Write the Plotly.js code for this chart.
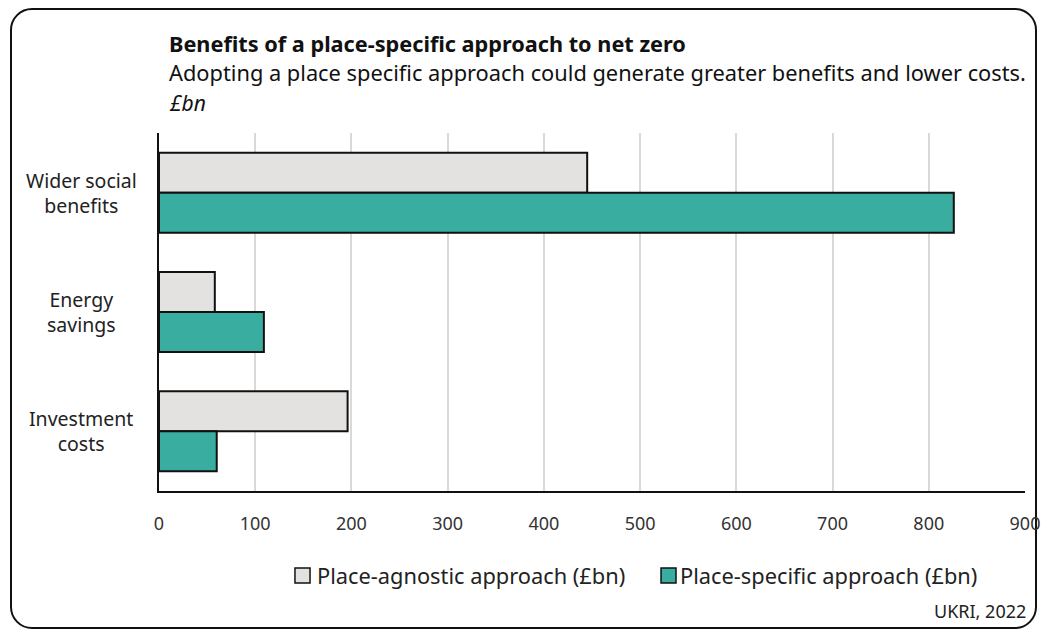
<!DOCTYPE html>
<html>
<head>
<meta charset="utf-8">
<script src="https://cdn.plot.ly/plotly-3.0.1.min.js"></script>
<style>
  html, body { margin: 0; padding: 0; background: #fff; }
  #frame { position: absolute; left: 10px; top: 8px; width: 1027px; height: 621px; border: 2px solid #111; border-radius: 22px; box-sizing: border-box; }
  #chart { position: absolute; left: 0; top: 0; width: 1045px; height: 633px; }
</style>
</head>
<body>
<div id="frame"></div>
<div id="chart"></div>
<script>
const categories = ["Wider social benefits", "Energy savings", "Investment costs"];
const categoryLabels = ["Wider social<br>benefits", "Energy<br>savings", "Investment<br>costs"];
const seriesNames = ["Place-agnostic approach (£bn)", "Place-specific approach (£bn)"];
const seriesColors = ["#e3e2e0", "#38ada0"];
const placeAgnostic = [445, 58, 196];
const placeSpecific = [826, 109, 60];
const xTicks = [0, 100, 200, 300, 400, 500, 600, 700, 800, 900];

const FONT = "Noto Sans, Open Sans, sans-serif";

const traces = [
  { type: "bar", orientation: "h", name: seriesNames[0], y: categories, x: placeAgnostic,
    marker: { color: seriesColors[0], line: { color: "#111", width: 2 } } },
  { type: "bar", orientation: "h", name: seriesNames[1], y: categories, x: placeSpecific,
    marker: { color: seriesColors[1], line: { color: "#111", width: 2 } } }
];

const annotations = categories.map((c, i) => ({
  xref: "paper", yref: "y", x: -0.090, y: c, text: categoryLabels[i],
  showarrow: false, xanchor: "center", yanchor: "middle", align: "center",
  font: { family: FONT, size: 19.5, color: "#222" }
}));
annotations.push(
  { xref: "paper", yref: "paper", x: 0.009, y: 1.251, xanchor: "left", yanchor: "middle", showarrow: false,
    text: "<b>Benefits of a place-specific approach to net zero</b>", font: { family: FONT, size: 21.7, color: "#111" } },
  { xref: "paper", yref: "paper", x: 0.009, y: 1.168, xanchor: "left", yanchor: "middle", showarrow: false,
    text: "Adopting a place specific approach could generate greater benefits and lower costs.", font: { family: FONT, size: 21.8, color: "#111" } },
  { xref: "paper", yref: "paper", x: 0.009, y: 1.084, xanchor: "left", yanchor: "middle", showarrow: false,
    text: "<i>£bn</i>", font: { family: FONT, size: 21, color: "#111" } },
  { xref: "paper", yref: "paper", x: 1.003, y: -0.335, xanchor: "right", yanchor: "middle", showarrow: false,
    text: "UKRI, 2022", font: { family: FONT, size: 18, color: "#222" } }
);

// custom legend (symbol squares + labels from series arrays)
const legendSymX = [[0.1570, 0.1744], [0.5797, 0.5970]];
const legendTextX = [0.1801, 0.5993];
const shapes = [];
seriesNames.forEach((n, i) => {
  shapes.push({ type: "rect", xref: "paper", yref: "paper",
    x0: legendSymX[i][0], x1: legendSymX[i][1], y0: -0.2151, y1: -0.2570,
    fillcolor: seriesColors[i], line: { color: "#111", width: 1.5 } });
  annotations.push({ xref: "paper", yref: "paper", x: legendTextX[i], y: -0.2365,
    xanchor: "left", yanchor: "middle", showarrow: false, text: n,
    font: { family: FONT, size: 21.8, color: "#222" } });
});

const layout = {
  width: 1045, height: 633,
  margin: { l: 159, r: 20, t: 133, b: 142 },
  paper_bgcolor: "rgba(0,0,0,0)", plot_bgcolor: "rgba(0,0,0,0)",
  barmode: "group", bargap: 0.33, bargroupgap: 0,
  font: { family: FONT, color: "#222" },
  xaxis: {
    range: [0, 900], tickvals: xTicks, ticktext: xTicks.map(String),
    showgrid: true, gridcolor: "#d9d9d9", gridwidth: 2,
    showline: true, linecolor: "#111", linewidth: 2, zeroline: false,
    ticks: "", ticklabelstandoff: 15,
    tickfont: { family: FONT, size: 18, color: "#333" }
  },
  yaxis: {
    categoryorder: "array", categoryarray: categories, autorange: "reversed",
    showticklabels: false, showgrid: false, showline: true, linecolor: "#111", linewidth: 2,
    zeroline: false, ticks: ""
  },
  showlegend: false,
  shapes: shapes,
  annotations: annotations
};

Plotly.newPlot("chart", traces, layout, { displayModeBar: false, staticPlot: true });
</script>
</body>
</html>
